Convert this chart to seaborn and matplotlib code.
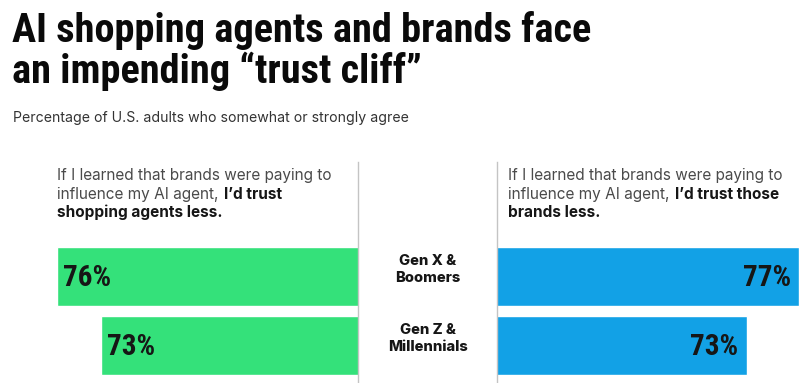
import matplotlib
matplotlib.use("Agg")
import matplotlib.pyplot as plt
import matplotlib.transforms as mtransforms
from matplotlib import font_manager as fm
import seaborn as sns
import pandas as pd

# ---- data ----
groups = ["Gen X &\nBoomers", "Gen Z &\nMillennials"]
trust_agents_less = [76, 73]
trust_brands_less = [77, 73]
value_labels_left = ["76%", "73%"]
value_labels_right = ["77%", "73%"]

title_lines = ["AI shopping agents and brands face", "an impending \u201ctrust cliff\u201d"]
subtitle = "Percentage of U.S. adults who somewhat or strongly agree"
left_head = [("If I learned that brands were paying to", ""),
             ("influence my AI agent, ", "I\u2019d trust"),
             ("", "shopping agents less.")]
right_head = [("If I learned that brands were paying to", ""),
              ("influence my AI agent, ", "I\u2019d trust those"),
              ("", "brands less.")]

GREEN = "#34E17A"
BLUE = "#12A1E6"
DARK = "#161616"
GREY = "#4a4a4a"

sns.set_theme(style="white")

available = {f.name for f in fm.fontManager.ttflist}


def pick(prefs):
    out = [p for p in prefs if p in available]
    return out + ["DejaVu Sans"]


COND = pick(["Roboto Condensed", "Barlow Condensed", "Archivo Narrow",
             "IBM Plex Sans Condensed", "Liberation Sans Narrow"])
BODY = pick(["Inter", "Work Sans", "Lato", "Open Sans"])
plt.rcParams["font.family"] = BODY

W, H = 806, 383
fig = plt.figure(figsize=(W / 100, H / 100), dpi=100)
fig.patch.set_facecolor("white")


def fx(x):
    return x / W


def fy(y):
    return 1 - y / H


renderer = fig.canvas.get_renderer()


def fit(t, target):
    w = t.get_window_extent(renderer).width
    t.set_fontsize(t.get_fontsize() * target / w)


# ---- title ----
t1 = fig.text(fx(12), fy(42), title_lines[0], family=COND, weight=900,
              fontsize=29, color="#0a0a0a", va="baseline", ha="left")
fit(t1, 578)
t2 = fig.text(fx(12), fy(83), title_lines[1], family=COND, weight=900,
              fontsize=t1.get_fontsize(), color="#0a0a0a", va="baseline", ha="left")
st = fig.text(fx(13), fy(122), subtitle, fontsize=9.5, color="#333333",
              va="baseline", ha="left")
fit(st, 394)

# ---- axes ----
top_px, bot_px = 162, 383
c0, c1 = 276.5, 345.5
step = c1 - c0
ylim = (1 + (bot_px - c1) / step, 0 - (c0 - top_px) / step)

axL = fig.add_axes([fx(57), 0, (358 - 57) / W, (bot_px - top_px) / H])
axR = fig.add_axes([fx(497), 0, (799 - 497) / W, (bot_px - top_px) / H])

dfL = pd.DataFrame({"group": groups, "value": trust_agents_less})
dfR = pd.DataFrame({"group": groups, "value": trust_brands_less})

sns.barplot(data=dfL, x="value", y="group", orient="h", color=GREEN,
            saturation=1, width=59 / 69, ax=axL)
sns.barplot(data=dfR, x="value", y="group", orient="h", color=BLUE,
            saturation=1, width=59 / 69, ax=axR)

axL.set_xlim(76, 55.5)
axR.set_xlim(53.8, 77)
for ax in (axL, axR):
    ax.set_ylim(*ylim)
    ax.set_xticks([])
    ax.set_yticks([])
    ax.set_xlabel("")
    ax.set_ylabel("")
    ax.set_facecolor("none")
    for s in ax.spines.values():
        s.set_visible(False)
axL.spines["right"].set_visible(True)
axL.spines["right"].set_color("#c4c4c4")
axL.spines["right"].set_linewidth(1)
axR.spines["left"].set_visible(True)
axR.spines["left"].set_color("#c4c4c4")
axR.spines["left"].set_linewidth(1)

# value labels
vl = []
for i, (v, lab) in enumerate(zip(trust_agents_less, value_labels_left)):
    vl.append(axL.annotate(lab, xy=(v, i), xytext=(4, -1), textcoords="offset points",
                           ha="left", va="center", family=COND, weight=900,
                           fontsize=21, color=DARK))
for i, (v, lab) in enumerate(zip(trust_brands_less, value_labels_right)):
    vl.append(axR.annotate(lab, xy=(v, i), xytext=(-6, -1), textcoords="offset points",
                           ha="right", va="center", family=COND, weight=900,
                           fontsize=21, color=DARK))
fit(vl[0], 48)
for t in vl[1:]:
    t.set_fontsize(vl[0].get_fontsize())

# group labels in the middle
blend = mtransforms.blended_transform_factory(fig.transFigure, axL.transData)
gl = []
for i, g in enumerate(groups):
    gl.append(fig.text(fx(428), i, g,
                       transform=blend + mtransforms.ScaledTranslation(0, 7 / 100, fig.dpi_scale_trans),
                       ha="center", va="center", weight=800, fontsize=9.3,
                       color=DARK, linespacing=1.2, multialignment="center"))
fit(gl[1], 80)
gl[0].set_fontsize(gl[1].get_fontsize())

# header paragraphs
probe = fig.text(0, 0, left_head[0][0], fontsize=9.3)
fit(probe, 275)
head_fs = probe.get_fontsize()
probe.remove()
line_base = [180, 199, 217]


def header(x0, lines):
    for (reg, bold), yb in zip(lines, line_base):
        x = fx(x0)
        if reg:
            t = fig.text(x, fy(yb), reg, fontsize=head_fs, color=GREY,
                         va="baseline", ha="left")
            bb = t.get_window_extent(renderer)
            x = fx(bb.x1 + 1)
        if bold:
            fig.text(x, fy(yb), bold, fontsize=head_fs, color=DARK,
                     weight="bold", va="baseline", ha="left")


header(57, left_head)
header(508, right_head)

fig.savefig("out.png", dpi=100, facecolor="white")
